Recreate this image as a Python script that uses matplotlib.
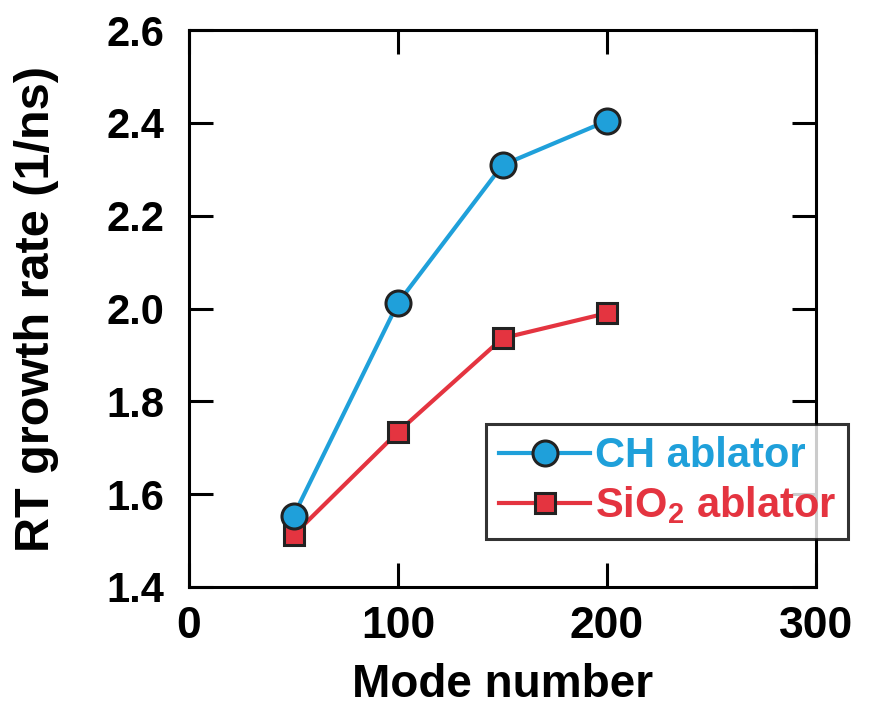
import matplotlib
matplotlib.use("Agg")
import matplotlib.pyplot as plt

# values
mode = [50, 100, 150, 200]
ch_rate = [1.553, 2.012, 2.309, 2.404]
sio2_rate = [1.512, 1.734, 1.936, 1.990]

BLUE = "#1fa0da"
RED = "#e43440"

plt.rcParams["font.family"] = ["Liberation Sans", "DejaVu Sans"]
plt.rcParams["font.weight"] = "bold"
plt.rcParams["mathtext.fontset"] = "custom"
plt.rcParams["mathtext.bf"] = "Liberation Sans:bold"

fig = plt.figure(figsize=(8.72, 7.09), dpi=100)
ax = fig.add_axes([189 / 872, 1 - 587 / 709, (816 - 189) / 872, (587 - 30) / 709])

ax.plot(mode, ch_rate, "-o", color=BLUE, lw=3, ms=18, mfc=BLUE, mec="#222222", mew=2.2,
        label="CH ablator", zorder=3)
ax.plot(mode, sio2_rate, "-s", color=RED, lw=3, ms=14.5, mfc=RED, mec="#222222", mew=2.2,
        label="SiO$_\\mathbf{2}$ ablator", zorder=2)

ax.set_xlim(0, 300)
ax.set_ylim(1.4, 2.6)
ax.set_xticks([0, 100, 200, 300])
ax.set_yticks([1.4, 1.6, 1.8, 2.0, 2.2, 2.4, 2.6])
ax.set_yticklabels(["1.4", "1.6", "1.8", "2.0", "2.2", "2.4", "2.6"])
ax.tick_params(direction="in", length=17, width=2.2, top=True, right=True)
ax.tick_params(axis="y", labelsize=30, pad=18)
ax.tick_params(axis="x", labelsize=32, pad=14)
for s in ax.spines.values():
    s.set_linewidth(2.2)
for lab in ax.get_xticklabels() + ax.get_yticklabels():
    lab.set_fontweight("bold")

ax.set_xlabel("Mode number", fontsize=33, fontweight="bold", labelpad=11)
ax.set_ylabel("RT growth rate (1/ns)", fontsize=35, fontweight="bold", labelpad=34)

leg = ax.legend(loc="upper left", bbox_to_anchor=(0.474, 0.293), fontsize=30,
                frameon=True, fancybox=False, edgecolor="black", handlelength=2.2,
                handletextpad=0.1, borderpad=0.3, labelspacing=0.2, borderaxespad=0)
leg.get_frame().set_linewidth(2.2)
leg.set_zorder(5)
for txt, c in zip(leg.get_texts(), [BLUE, RED]):
    txt.set_color(c)
    txt.set_fontweight("bold")

fig.savefig("out.png", dpi=100)
